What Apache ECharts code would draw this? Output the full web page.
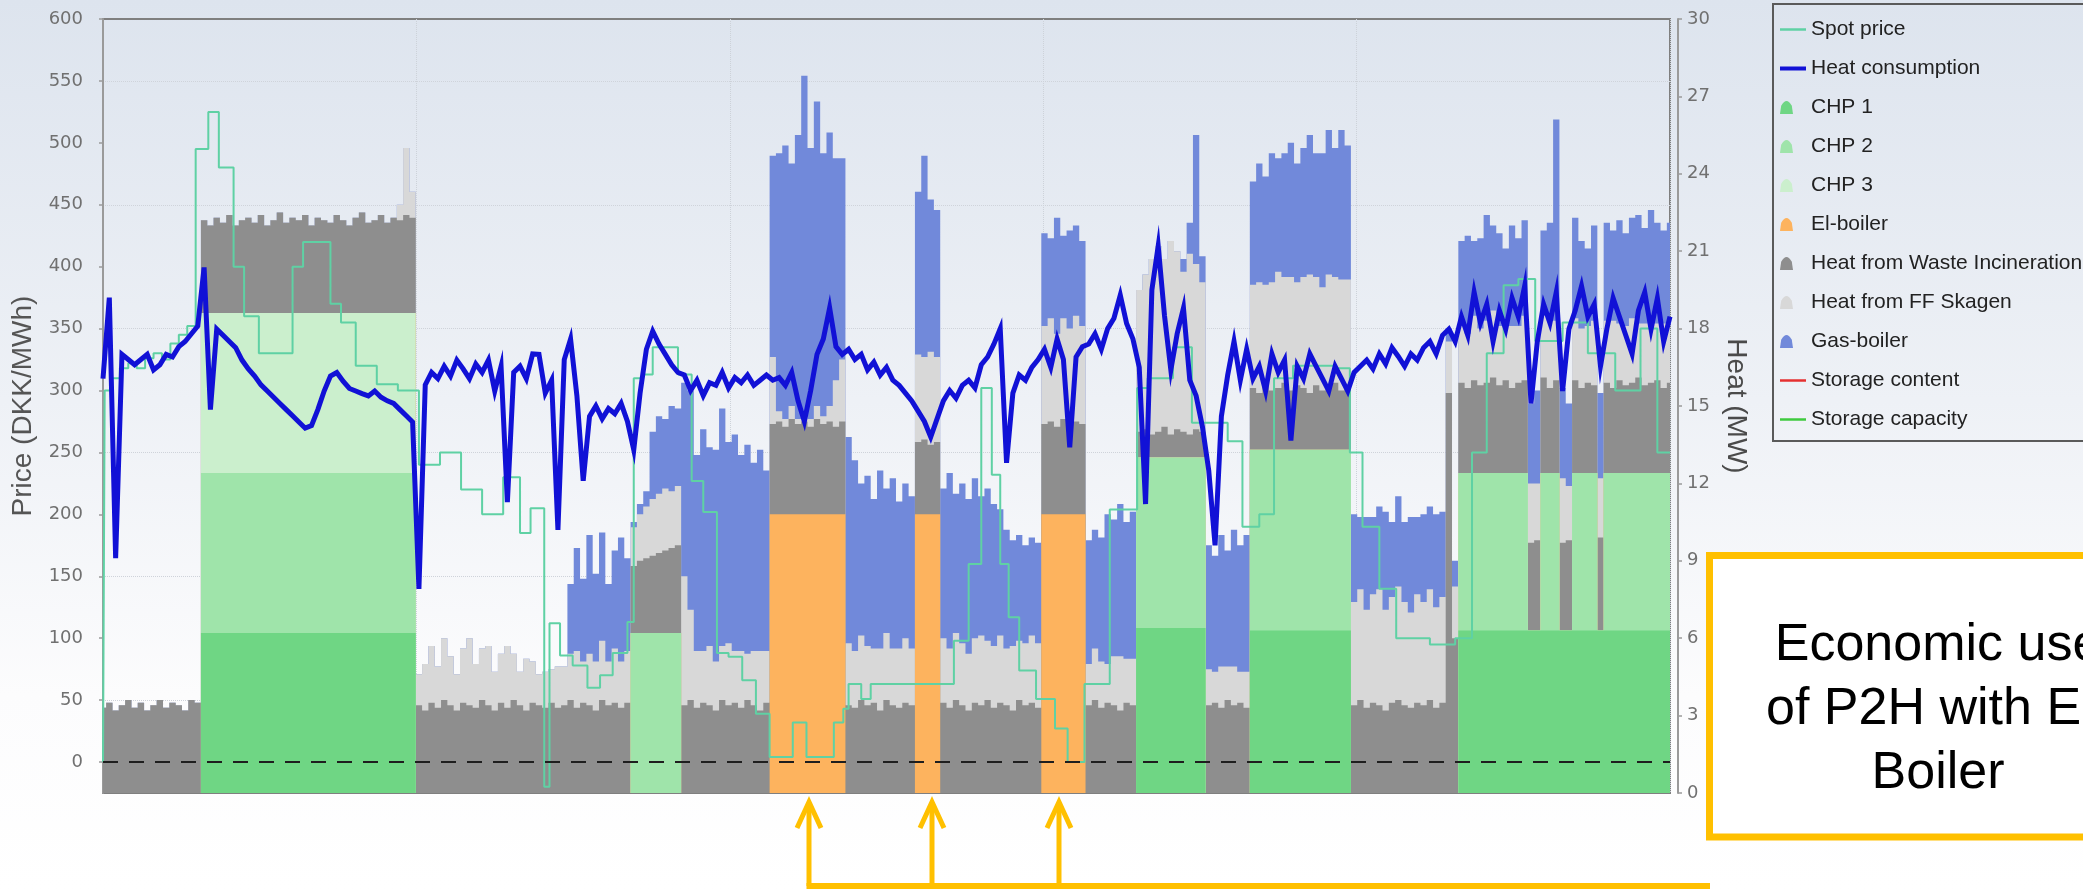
<!DOCTYPE html>
<html>
<head>
<meta charset="utf-8">
<script src="https://cdn.jsdelivr.net/npm/echarts@6/dist/echarts.min.js"></script>
<style>
  html, body { margin: 0; padding: 0; background: #fff; }
  #chart { width: 2083px; height: 890px; }
</style>
</head>
<body>
<div id="chart"></div>
<script>
// Heat production per unit (MW), one sample every 3 hours over a 744 h month.
const STEP_HOURS = 3;

const chp1 = [
  0,0,0,0,0,0,0,0,0,0,0,0,0,0,0,0,
  6.2,6.2,6.2,6.2,6.2,6.2,6.2,6.2,6.2,6.2,6.2,6.2,6.2,6.2,6.2,6.2,6.2,6.2,6.2,6.2,6.2,6.2,6.2,6.2,6.2,6.2,6.2,6.2,6.2,6.2,6.2,6.2,6.2,6.2,
  0,0,0,0,0,0,0,0,0,0, 0,0,0,0,0,0,0,0,0,0, 0,0,0,0,0,0,0,0,0,0, 0,0,0,0,0,0,0,0,0,0,
  0,0,0,0,0,0,0,0,0,0, 0,0,0,0,0,0,0,0,0,0, 0,0,0,0,0,0,0,0,0,0, 0,0,0,0,0,0,0,0,0,0,
  0,0,0,0,0,0,0,0,0,0, 0,0,0,0,0,0,0,0,0,0, 0,0,0,0,0,0,0,0,0,0, 0,0,0,0,
  6.4,6.4,6.4,6.4,6.4,6.4,6.4,6.4,6.4,6.4,6.4,
  0,0,0,0,0,0,0,
  6.3,6.3,6.3,6.3,6.3,6.3,6.3,6.3,6.3,6.3,6.3,6.3,6.3,6.3,6.3,6.3,
  0,0,0,0,0,0,0,0,0,0,0,0,0,0,0,
  0,0,6.3,6.3,6.3,6.3,6.3,6.3,6.3,6.3,6.3,6.3,6.3,6.3,6.3,6.3,6.3,6.3,6.3,6.3,6.3,6.3,6.3,6.3,6.3,6.3,6.3,6.3,6.3,6.3,6.3,6.3,6.3,6.3,6.3,6.3
];

const chp2 = [
  0,0,0,0,0,0,0,0,0,0,0,0,0,0,0,0,
  6.2,6.2,6.2,6.2,6.2,6.2,6.2,6.2,6.2,6.2,6.2,6.2,6.2,6.2,6.2,6.2,6.2,6.2,6.2,6.2,6.2,6.2,6.2,6.2,6.2,6.2,6.2,6.2,6.2,6.2,6.2,6.2,6.2,6.2,
  0,0,0,0,0,0,0,0,0,0, 0,0,0,0,0,0,0,0,0,0, 0,0,0,0,0,0,0,0,0,0, 0,0,0,0,
  6.2,6.2,6.2,6.2,6.2,6.2,6.2,6.2,
  0,0,0,0,0,0,0,0,0,0, 0,0,0,0,0,0,0,0,0,0, 0,0,0,0,0,0,0,0,0,0, 0,0,0,0,0,0,0,0,0,0,
  0,0,0,0,0,0,0,0,0,0, 0,0,0,0,0,0,0,0,0,0, 0,0,0,0,0,0,0,0,0,0, 0,0,
  6.6,6.6,6.6,6.6,6.6,6.6,6.6,6.6,6.6,6.6,6.6,
  0,0,0,0,0,0,0,
  7.0,7.0,7.0,7.0,7.0,7.0,7.0,7.0,7.0,7.0,7.0,7.0,7.0,7.0,7.0,7.0,
  0,0,0,0,0,0,0,0,0,0,0,0,0,0,0,
  0,0,6.1,6.1,6.1,6.1,6.1,6.1,6.1,6.1,6.1,6.1,6.1,0,0,6.1,6.1,6.1,0,0,6.1,6.1,6.1,6.1,0,6.1,6.1,6.1,6.1,6.1,6.1,6.1,6.1,6.1,6.1,6.1
];

const chp3 = [
  0,0,0,0,0,0,0,0,0,0,0,0,0,0,0,0,
  6.2,6.2,6.2,6.2,6.2,6.2,6.2,6.2,6.2,6.2,6.2,6.2,6.2,6.2,6.2,6.2,6.2,6.2,6.2,6.2,6.2,6.2,6.2,6.2,6.2,6.2,6.2,6.2,6.2,6.2,6.2,6.2,6.2,6.2,
  0,0,0,0,0,0,0,0,0,0, 0,0,0,0,0,0,0,0,0,0, 0,0,0,0,0,0,0,0,0,0, 0,0,0,0,0,0,0,0,0,0,
  0,0,0,0,0,0,0,0,0,0, 0,0,0,0,0,0,0,0,0,0, 0,0,0,0,0,0,0,0,0,0, 0,0,0,0,0,0,0,0,0,0,
  0,0,0,0,0,0,0,0,0,0, 0,0,0,0,0,0,0,0,0,0, 0,0,0,0,0,0,0,0,0,0, 0,0,0,0,0,0,0,0,0,0,
  0,0,0,0,0,0,0,0,0,0, 0,0,0,0,0,0,0,0,0,0, 0,0,0,0,0,0,0,0,0,0, 0,0,0,0,0,0,0,0,0,0,
  0,0,0,0,0,0,0,0,0,0, 0,0,0,0,0,0,0,0,0,0, 0,0,0,0,0,0,0,0,0,0, 0,0,0,0,0,0,0,0,0
];

const elBoiler = [
  0,0,0,0,0,0,0,0,0,0, 0,0,0,0,0,0,0,0,0,0, 0,0,0,0,0,0,0,0,0,0, 0,0,0,0,0,0,0,0,0,0,
  0,0,0,0,0,0,0,0,0,0, 0,0,0,0,0,0,0,0,0,0, 0,0,0,0,0,0,0,0,0,0, 0,0,0,0,0,0,0,0,0,0,
  0,0,0,0,0,0,0,0,0,0, 0,0,0,0,0,0,0,0,0,0, 0,0,0,0,0,0,
  10.8,10.8,10.8,10.8,10.8,10.8,10.8,10.8,10.8,10.8,10.8,10.8,
  0,0,0,0,0,0,0,0,0,0,0,
  10.8,10.8,10.8,10.8,
  0,0,0,0,0,0,0,0,0,0,0,0,0,0,0,0,
  10.8,10.8,10.8,10.8,10.8,10.8,10.8,
  0,0,0,0,0,0,0,0,0,0, 0,0,0,0,0,0,0,0,0,0, 0,0,0,0,0,0,0,0,0,0, 0,0,0,0,0,0,0,0,0,0,
  0,0,0,0,0,0,0,0,0,0, 0,0,0,0,0,0,0,0,0,0, 0,0,0,0,0,0,0,0,0,0, 0,0,0,0,0,0,0,0,0,0,
  0,0,0,0,0,0,0,0,0,0, 0,0,0
];

const wasteHeat = [
  3.3,3.5,3.2,3.4,3.6,3.3,3.5,3.2,3.4,3.6,3.3,3.5,3.4,3.2,3.6,3.5,
  3.6,3.4,3.7,3.5,3.8,3.4,3.6,3.7,3.5,3.8,3.4,3.6,3.9,3.5,3.7,3.6,3.8,3.4,3.7,3.6,3.5,3.8,3.6,3.4,3.7,3.9,3.5,3.6,3.8,3.5,3.7,3.6,3.8,3.7,
  3.4,3.2,3.5,3.3,3.6,3.4,3.2,3.5,3.4,3.3,3.6,3.4,3.2,3.5,3.3,3.6,3.4,3.2,3.5,3.4,3.3,
  3.5,3.3,3.4,
  3.6,3.3,3.5,3.4,3.2,3.6,3.4,3.5,3.3,3.5,
  2.6,2.8,2.9,3.0,3.1,3.2,3.3,3.4,
  3.4,3.6,3.3,3.5,3.4,3.2,3.6,3.4,3.5,3.3,3.6,3.4,3.2,3.5,
  3.5,3.6,3.4,3.7,3.5,3.6,3.4,3.7,3.5,3.6,3.4,3.6,
  3.4,3.3,3.6,3.4,3.5,3.2,3.6,3.4,3.3,3.5,3.4,
  2.8,2.9,2.7,2.8,
  3.5,3.3,3.6,3.4,3.2,3.5,3.4,3.6,3.3,3.5,3.4,3.2,3.6,3.4,3.5,3.3,
  3.5,3.6,3.4,3.7,3.5,3.6,3.5,
  3.4,3.6,3.3,3.5,3.4,3.2,3.5,3.4,
  1.0,1.1,0.9,1.0,1.2,0.9,1.1,1.0,0.9,1.1,1.0,
  3.4,3.5,3.3,3.6,3.4,3.5,3.3,
  2.4,2.2,2.5,2.3,2.4,2.6,2.3,2.5,2.4,2.2,2.5,2.3,2.4,2.6,2.3,2.4,
  3.4,3.6,3.3,3.5,3.4,3.2,3.5,3.6,3.4,3.3,3.5,3.4,3.6,3.3,3.5,
  15.5,6.0,3.5,3.3,3.6,3.4,3.5,3.7,3.4,3.6,3.3,3.5,3.6,3.4,3.5,3.7,3.3,3.6,3.4,3.5,3.6,3.3,3.5,3.4,3.6,3.5,3.3,3.6,3.4,3.5,3.7,3.4,3.5,3.6,3.3,3.5
];

const ffSkagen = [
  0,0,0,0,0,0,0,0,0,0,0,0,0,0,0,0,
  0,0,0,0,0,0,0,0,0,0,0,0,0,0,0,0,0,0,0,0,0,0,0,0,0,0,0,0,0,0,0,0.6,2.6,1.0,
  1.2,1.8,2.2,1.6,2.4,1.9,1.4,2.1,2.6,1.7,2.0,2.3,1.5,1.9,2.4,1.8,1.3,2.0,1.6,1.2,1.4,
  1.3,1.6,1.5,
  1.8,2.2,1.6,2.0,1.9,2.3,1.7,2.1,1.8,2.0,
  1.5,1.8,2.0,2.2,2.3,2.4,2.2,2.3,
  5.0,3.5,2.2,2.0,2.3,1.9,2.1,2.4,2.0,2.2,1.8,2.1,2.3,2.0,
  2.6,0.4,0.3,0.5,0.2,0.4,0.3,0.5,0.3,0.6,1.8,2.4,
  2.4,2.2,2.5,2.3,2.1,2.4,2.6,2.2,2.3,2.5,2.2,
  3.4,3.2,3.6,3.3,
  2.5,2.3,2.6,2.4,2.2,2.5,2.7,2.3,2.4,2.6,2.2,2.5,2.3,2.4,2.6,2.5,
  3.8,4.0,3.6,3.9,3.7,4.1,3.8,
  1.6,2.0,1.8,1.5,1.9,2.1,1.7,1.8,
  5.5,6.0,6.8,7.2,6.5,7.5,6.9,6.2,7.0,6.4,5.8,
  1.4,1.2,1.6,1.3,1.5,1.2,1.4,
  4.0,4.3,3.9,4.2,4.5,4.1,4.4,4.0,4.3,4.6,4.2,4.0,4.4,4.1,4.3,4.2,
  4.0,4.3,3.8,4.2,4.5,3.9,4.1,4.4,4.0,3.7,4.2,4.0,4.3,3.9,4.1,
  2.0,2.0,2.3,2.1,2.5,2.2,2.4,2.6,2.3,2.1,2.4,2.2,2.5,2.3,2.2,2.4,2.6,2.3,2.5,2.1,2.4,2.3,2.2,2.5,2.3,2.4,2.6,2.2,2.3,2.5,2.1,2.4,2.3,2.2,2.5,2.4
];

const gasBoiler = [
  0,0,0,0,0,0,0,0,0,0, 0,0,0,0,0,0,0,0,0,0, 0,0,0,0,0,0,0,0,0,0, 0,0,0,0,0,0,0,0,0,0,
  0,0,0,0,0,0,0,0,0,0, 0,0,0,0,0,0,0,0,0,0, 0,0,0,0,0,0,0,0,0,0, 0,0,0,0,
  2.7,4.0,3.2,4.6,3.4,4.2,3.0,3.8,4.8,3.6,
  0.2,0.4,0.6,2.6,3.0,2.7,3.3,3.0,
  7.5,8.5,7.6,8.6,7.7,8.2,9.2,7.8,8.4,7.6,8.1,7.3,7.8,7.0,
  7.8,10.0,10.6,9.4,11.0,13.0,10.5,11.8,10.2,10.6,8.6,7.8,
  8.0,7.4,5.9,6.6,5.8,6.9,5.6,6.6,5.7,6.0,5.9,
  6.3,7.8,5.9,5.7,
  5.8,6.8,5.4,6.2,6.0,6.2,5.4,5.9,5.5,4.9,4.6,4.1,4.1,3.8,3.8,3.9,
  3.6,3.1,4.5,3.2,3.8,3.5,3.3,
  4.8,4.6,4.8,5.8,5.3,5.9,5.3,5.7,
  0,0,0,0,0,0,0,0.5,1.2,5.0,1.0,
  4.8,4.5,5.1,4.5,5.3,4.9,5.3,
  4.0,4.6,4.2,5.0,4.4,4.8,5.2,4.6,5.0,5.4,4.8,5.2,5.6,5.0,5.8,5.2,
  3.4,2.8,3.6,3.0,3.2,3.8,2.9,3.5,3.1,3.7,3.0,3.4,3.2,3.6,3.3,
  0.5,1.0,3.2,3.8,2.9,3.5,4.1,3.3,3.6,3.0,3.9,3.4,3.7,3.1,3.6,3.3,3.8,7.8,3.5,3.2,3.9,3.4,3.0,3.7,3.3,3.8,3.5,4.0,3.6,3.9,4.2,3.7,4.4,3.9,3.6,3.8
];

// District heating demand (MW) on the same 3 h grid
const heatConsumption = [
  16.06,19.2,9.1,17.0,16.8,16.6,16.8,17.0,16.4,16.6,17.0,16.9,17.3,17.5,17.8,18.1,
  20.37,14.86,17.98,17.74,17.5,17.26,16.78,16.44,16.16,15.82,15.58,15.34,15.1,14.86,14.62,14.38,14.14,14.24,14.86,15.58,16.16,16.3,15.96,15.68,15.58,15.48,15.39,15.58,15.34,15.2,15.1,14.86,14.62,14.38,
  7.91,15.82,16.3,16.06,16.54,16.16,16.78,16.44,16.06,16.63,16.3,16.78,15.58,16.54,11.27,16.3,16.54,16.06,17.02,17.0,15.5,
  16.0,10.2,16.8,
  17.6,15.4,12.1,14.6,15.0,14.5,14.9,14.7,15.1,14.4,
  13.3,15.5,17.2,17.9,17.4,17.0,16.6,16.3,
  16.2,15.6,16.0,15.4,15.9,15.8,16.3,15.7,16.1,15.9,16.2,15.8,16.0,16.2,
  16.0,16.1,15.8,16.3,15.2,14.4,15.6,17.0,17.6,18.8,17.3,17.0,
  17.2,16.8,17.0,16.4,16.7,16.2,16.5,16.0,15.8,15.5,15.2,
  14.8,14.4,13.8,14.5,
  15.2,15.6,15.3,15.8,16.0,15.7,16.6,16.9,17.4,18.0,12.8,15.5,16.2,16.0,16.5,16.8,
  17.2,16.5,17.6,16.8,13.4,16.9,17.3,
  17.4,17.8,17.2,18.0,18.4,19.3,18.2,17.6,
  16.5,11.2,19.5,21.2,18.5,16.4,17.8,18.8,16.0,15.4,14.2,
  12.5,9.6,14.6,16.2,17.5,16.0,17.2,
  16.06,16.54,15.58,17.02,16.3,16.78,13.66,16.54,16.06,17.02,16.54,16.06,15.58,16.54,16.06,15.58,
  16.3,16.54,16.78,16.44,17.02,16.63,17.26,16.92,16.54,17.02,16.78,17.26,17.5,17.02,17.74,
  17.98,17.5,18.46,17.74,19.41,18.22,18.94,17.5,18.7,17.98,19.18,18.46,19.65,15.1,17.5,18.94,18.22,19.41,15.58,17.98,18.7,19.65,18.46,18.94,16.54,17.98,19.18,18.46,17.74,17.02,18.7,19.41,17.98,19.18,17.5,18.46
];

// Spot price (DKK/MWh): hour where each price step starts, and its value
const priceHours = [
  0,0.8,4,8,12,16,20,24,28,32,36,40,44,50,55,62,67,74,90,95,108,113,120,130,140,
  150,160,170,180,190,198,203,209.5,212,217,223,230,236,242,249,252,256.5,261,273,279.5,285,291.5,297,303.5,310,
  316.5,327.5,334,347,351.5,354,360,364.5,404,411,417,422,426,430,435,443,452,458,466,478,491,496,508,517,534,541,
  549,556,565,585,592,598,606,614,630,642,650,657,665,672,680,693,705,718,730,738,744
];
const spotPrice = [
  0,300,310,318,322,318,326,330,325,338,345,352,495,525,480,400,360,330,400,420,370,355,320,305,300,
  240,250,220,200,230,185,205,-20,112,86,78,60,70,88,113,310,313,335,313,227,202,88,85,66,39,
  4,32,4,32,43,63,51,63,98,160,302,232,160,117,74,51,27,0,63,204,302,310,335,274,259,190,
  200,310,320,318,250,190,140,100,95,100,250,330,385,390,340,355,330,300,350,250,250
];

// Storage series are listed in the legend; no values fall in the plotted range
const storageContent = [];
const storageCapacity = [];

const priceTicks = [0, 50, 100, 150, 200, 250, 300, 350, 400, 450, 500, 550, 600];

const hours = chp1.map((_, i) => i * STEP_HOURS);
const priceSteps = spotPrice.map((v, i) => [priceHours[i], v]);

const COLORS = {
  spot: '#5fd1a4',
  heat: '#1111d6',
  chp1: '#6fd684',
  chp2: '#9fe4aa',
  chp3: '#cbefcd',
  el: '#fdb35e',
  waste: '#8e8e8e',
  ff: '#d8d8d8',
  gas: '#7189da',
  storC: '#e53030',
  storCap: '#3fca3f'
};

// Production units in stacking order, bottom to top
const units = [
  { name: 'CHP 1', values: chp1, color: COLORS.chp1 },
  { name: 'CHP 2', values: chp2, color: COLORS.chp2 },
  { name: 'CHP 3', values: chp3, color: COLORS.chp3 },
  { name: 'El-boiler', values: elBoiler, color: COLORS.el },
  { name: 'Heat from Waste Incineration', values: wasteHeat, color: COLORS.waste },
  { name: 'Heat from FF Skagen', values: ffSkagen, color: COLORS.ff },
  { name: 'Gas-boiler', values: gasBoiler, color: COLORS.gas }
];

// Running totals: each unit's band is drawn as the area up to its cumulative top,
// painted from the top unit downwards so lower bands cover the ones above.
const running = hours.map(() => 0);
const stackedTops = units.map(u => u.values.map((v, i) => (running[i] = +(running[i] + v).toFixed(3))));

const areaSeries = units.map((u, k) => ({
  name: u.name, type: 'line', yAxisIndex: 1, step: 'middle',
  symbol: 'none', showSymbol: false, silent: true, z: 2,
  lineStyle: { width: 0, color: u.color },
  itemStyle: { color: u.color },
  areaStyle: { color: u.color, opacity: 1, origin: 'start' },
  data: stackedTops[k].map((v, i) => [hours[i], v])
})).reverse();

const LINE_ICON = 'path://M0,0H26V2.5H0Z';
const THICK_LINE_ICON = 'path://M0,0H26V4H0Z';
const HILL_ICON = 'path://M0,14L1,7Q5.5,-1 10,7L11,14Z M22,14';

const chart = echarts.init(document.getElementById('chart'), null, { renderer: 'canvas' });

chart.setOption({
  animation: false,
  backgroundColor: {
    type: 'linear', x: 0, y: 0, x2: 0, y2: 1,
    colorStops: [
      { offset: 0, color: '#dde4ee' },
      { offset: 0.45, color: '#eef1f6' },
      { offset: 0.78, color: '#fcfcfd' },
      { offset: 1, color: '#ffffff' }
    ]
  },
  grid: {
    left: 103, right: 413, top: 19, bottom: 97,
    show: true, borderColor: '#7f7f7f', borderWidth: 2, backgroundColor: 'transparent'
  },
  legend: {
    orient: 'vertical', left: 1780, top: 19, padding: 0,
    itemWidth: 26, itemHeight: 16, itemGap: 18, itemTextGap: 7,
    selectedMode: false,
    itemStyle: { borderWidth: 0 },
    textStyle: { fontFamily: 'Liberation Sans', fontSize: 21, color: '#222' },
    data: [
      { name: 'Spot price', icon: LINE_ICON },
      { name: 'Heat consumption', icon: THICK_LINE_ICON },
      { name: 'CHP 1', icon: HILL_ICON },
      { name: 'CHP 2', icon: HILL_ICON },
      { name: 'CHP 3', icon: HILL_ICON },
      { name: 'El-boiler', icon: HILL_ICON },
      { name: 'Heat from Waste Incineration', icon: HILL_ICON },
      { name: 'Heat from FF Skagen', icon: HILL_ICON },
      { name: 'Gas-boiler', icon: HILL_ICON },
      { name: 'Storage content', icon: LINE_ICON },
      { name: 'Storage capacity', icon: LINE_ICON }
    ]
  },
  xAxis: {
    type: 'value', min: 0, max: 744, interval: 148.8,
    axisLine: { show: false }, axisTick: { show: false }, axisLabel: { show: false },
    splitLine: { show: true, lineStyle: { color: '#cdd2d9', type: 'dotted', width: 1 } }
  },
  yAxis: [
    {
      type: 'value', position: 'left', min: -25, max: 600, interval: 25, offset: 6,
      name: 'Price (DKK/MWh)', nameLocation: 'middle', nameGap: 51,
      nameTextStyle: { fontFamily: 'Liberation Sans', fontSize: 28, color: '#555' },
      axisLine: { show: true, lineStyle: { color: '#9a9a9a', width: 2 } },
      axisTick: { show: true, length: 4, customValues: priceTicks, lineStyle: { color: '#9a9a9a', width: 1.5 } },
      axisLabel: {
        customValues: priceTicks, margin: 14,
        fontFamily: 'DejaVu Sans', fontSize: 18, color: '#707070',
        formatter: v => (v >= 0 && v % 50 === 0) ? String(v) : ''
      },
      splitLine: {
        show: true,
        lineStyle: { color: ['rgba(0,0,0,0)', '#cfd3da'], type: 'dotted', width: 1 }
      }
    },
    {
      type: 'value', position: 'right', min: 0, max: 30, interval: 3, offset: 8,
      name: 'Heat (MW)', nameLocation: 'middle', nameRotate: -90, nameGap: 44,
      nameTextStyle: { fontFamily: 'Liberation Sans', fontSize: 28, color: '#4a4a4a' },
      axisLine: { show: true, lineStyle: { color: '#9a9a9a', width: 2 } },
      axisTick: { show: true, length: 4, lineStyle: { color: '#9a9a9a', width: 1.5 } },
      axisLabel: { margin: 9, fontFamily: 'DejaVu Sans', fontSize: 18, color: '#707070' },
      splitLine: { show: false }
    }
  ],
  series: [
    ...areaSeries,
    {
      name: 'Spot price', type: 'line', yAxisIndex: 0, step: 'end',
      symbol: 'none', showSymbol: false, silent: true, z: 3,
      lineStyle: { color: COLORS.spot, width: 2 }, itemStyle: { color: COLORS.spot },
      data: priceSteps,
      markLine: {
        silent: true, symbol: 'none', label: { show: false },
        lineStyle: { color: '#1e1e1e', type: [15, 11], width: 2 },
        data: [{ yAxis: 0 }]
      }
    },
    {
      name: 'Heat consumption', type: 'line', yAxisIndex: 1,
      symbol: 'none', showSymbol: false, silent: true, z: 4,
      lineStyle: { color: COLORS.heat, width: 5, join: 'miter' }, itemStyle: { color: COLORS.heat },
      data: heatConsumption.map((v, i) => [hours[i], v])
    },
    {
      name: 'Storage content', type: 'line', yAxisIndex: 1, symbol: 'none', silent: true,
      lineStyle: { color: COLORS.storC, width: 2 }, itemStyle: { color: COLORS.storC },
      data: storageContent
    },
    {
      name: 'Storage capacity', type: 'line', yAxisIndex: 1, symbol: 'none', silent: true,
      lineStyle: { color: COLORS.storCap, width: 2 }, itemStyle: { color: COLORS.storCap },
      data: storageCapacity
    }
  ],
  graphic: [
    // legend frame
    {
      type: 'rect', silent: true, z: 1,
      shape: { x: 1773, y: 4, width: 330, height: 437 },
      style: { fill: 'rgba(0,0,0,0)', stroke: '#5a5a5a', lineWidth: 2 }
    },
    // callout box
    {
      type: 'rect', silent: true, z: 10,
      shape: { x: 1709.5, y: 555.5, width: 420, height: 281.5 },
      style: { fill: '#ffffff', stroke: '#FFC000', lineWidth: 7 }
    },
    {
      type: 'text', silent: true, z: 11,
      style: { text: 'Economic use', x: 1938, y: 646, align: 'center', verticalAlign: 'middle',
        font: '52px "Liberation Sans", Arial, sans-serif', fill: '#000' }
    },
    {
      type: 'text', silent: true, z: 11,
      style: { text: 'of P2H with El-', x: 1938, y: 710, align: 'center', verticalAlign: 'middle',
        font: '52px "Liberation Sans", Arial, sans-serif', fill: '#000' }
    },
    {
      type: 'text', silent: true, z: 11,
      style: { text: 'Boiler', x: 1938, y: 774, align: 'center', verticalAlign: 'middle',
        font: '52px "Liberation Sans", Arial, sans-serif', fill: '#000' }
    },
    // arrows pointing at the three El-boiler periods
    { type: 'line', silent: true, z: 10, shape: { x1: 806.5, y1: 886, x2: 1710, y2: 886 },
      style: { stroke: '#FFC000', lineWidth: 6 } },
    { type: 'line', silent: true, z: 10, shape: { x1: 809, y1: 803, x2: 809, y2: 886 },
      style: { stroke: '#FFC000', lineWidth: 5 } },
    { type: 'line', silent: true, z: 10, shape: { x1: 932, y1: 803, x2: 932, y2: 886 },
      style: { stroke: '#FFC000', lineWidth: 5 } },
    { type: 'line', silent: true, z: 10, shape: { x1: 1059, y1: 803, x2: 1059, y2: 886 },
      style: { stroke: '#FFC000', lineWidth: 5 } },
    { type: 'polyline', silent: true, z: 10, shape: { points: [[797, 828], [809, 802], [821, 828]] },
      style: { stroke: '#FFC000', lineWidth: 5, fill: null } },
    { type: 'polyline', silent: true, z: 10, shape: { points: [[920, 828], [932, 802], [944, 828]] },
      style: { stroke: '#FFC000', lineWidth: 5, fill: null } },
    { type: 'polyline', silent: true, z: 10, shape: { points: [[1047, 828], [1059, 802], [1071, 828]] },
      style: { stroke: '#FFC000', lineWidth: 5, fill: null } }
  ]
});
</script>
</body>
</html>
